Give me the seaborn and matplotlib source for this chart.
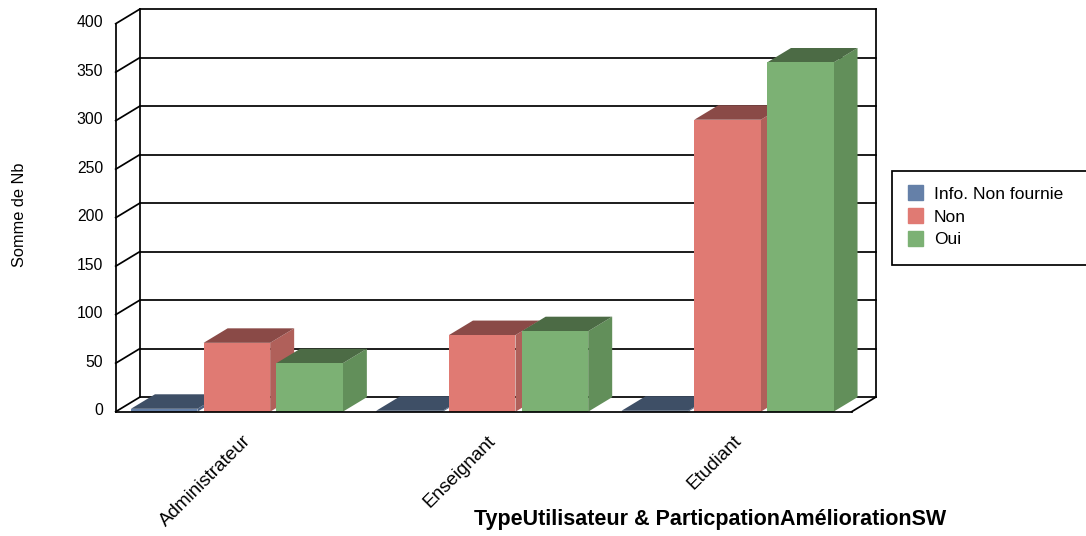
import matplotlib
matplotlib.use("Agg")
import matplotlib.pyplot as plt
import matplotlib.patches as mpatches
import matplotlib.transforms as mtrans
import pandas as pd
import seaborn as sns

categories = ["Administrateur", "Enseignant", "Etudiant"]
info_non_fournie = [3, 1, 1]
non = [71, 79, 301]
oui = [50, 83, 360]
hue_names = ["Info. Non fournie", "Non", "Oui"]
front_colors = ["#6580A8", "#E07A73", "#7CB174"]
side_colors = ["#4F6484", "#B0605A", "#628F5A"]
top_colors = ["#3E4F66", "#8A4A47", "#4C6B45"]
y_ticks = [0, 50, 100, 150, 200, 250, 300, 350, 400]

W, H = 1086, 536
sns.set_theme(style="white")
plt.rcParams["font.family"] = ["Liberation Sans", "DejaVu Sans"]

fig = plt.figure(figsize=(W / 100, H / 100), dpi=100, facecolor="white")
ax = fig.add_axes([115.7 / W, 1 - 411.7 / H, 736 / W, 388 / H])
ax.set_facecolor("none")

df = pd.DataFrame({
    "cat": categories * 3,
    "hue": [h for h in hue_names for _ in categories],
    "val": info_non_fournie + non + oui,
})
sns.barplot(data=df, x="cat", y="val", hue="hue", hue_order=hue_names,
            palette=front_colors, saturation=1, width=0.889, gap=0.085,
            legend=False, ax=ax)
xl, xr = -0.494, 2.506
ax.set_xlim(xl, xr)
ax.set_ylim(0, 400)

# depth of the pseudo-3D box, in data units
dx = 24 / (736 / 3)
dy = 14.5 / (388 / 400)

# extruded faces, one pair per seaborn bar
n_cat = len(categories)
for i, p in enumerate(ax.patches):
    h = i // n_cat
    x0, w, v = p.get_x(), p.get_width(), p.get_height()
    x1 = x0 + w
    z = 3 + h * 0.1
    p.set_zorder(z + 0.02)
    p.set_linewidth(0)
    ax.fill([x1, x1 + dx, x1 + dx, x1], [0, dy, v + dy, v],
            color=side_colors[h], lw=0, zorder=z, clip_on=False)
    ax.fill([x0, x0 + dx, x1 + dx, x1], [v, v + dy, v + dy, v],
            color=top_colors[h], lw=0, zorder=z + 0.01, clip_on=False)

# back wall: grid, diagonals, frame
lk = dict(color="black", lw=1.25, clip_on=False, solid_capstyle="projecting")
for t in y_ticks:
    ax.plot([xl + dx, xr + dx], [t + dy, t + dy], zorder=1, **lk)
    ax.plot([xl, xl + dx], [t, t + dy], zorder=1, **lk)
ax.plot([xl + dx, xl + dx], [dy, 400 + dy], zorder=1, **lk)
ax.plot([xr + dx, xr + dx], [dy, 400 + dy], zorder=1, **lk)
ax.plot([xr, xr + dx], [0, dy], zorder=1, **lk)

sns.despine(ax=ax, top=True, right=True)
for s in ("left", "bottom"):
    ax.spines[s].set_color("black")
    ax.spines[s].set_linewidth(1.25)
    ax.spines[s].set_zorder(5)

ax.set_xlabel("")
ax.set_ylabel("")
ax.set_yticks(y_ticks)
ax.tick_params(axis="y", length=0, pad=9, labelsize=11.3, labelcolor="black")
ax.tick_params(axis="x", length=0, pad=15, labelsize=13.6, labelcolor="black")
shift = mtrans.ScaledTranslation(0, 2.5 / 100, fig.dpi_scale_trans)
for lab in ax.get_yticklabels():
    lab.set_transform(lab.get_transform() + shift)
xshift = mtrans.ScaledTranslation(5 / 100, 0, fig.dpi_scale_trans)
for lab in ax.get_xticklabels():
    lab.set_rotation(45)
    lab.set_ha("right")
    lab.set_rotation_mode("anchor")
    lab.set_transform(lab.get_transform() + xshift)

fig.text(19.5 / W, 1 - 215 / H, "Somme de Nb", rotation=90, ha="center", va="center",
         fontsize=11.8, color="black")
fig.text(710 / W, 1 - 520 / H, "TypeUtilisateur & ParticpationAméliorationSW",
         ha="center", va="center", fontsize=15.5, fontweight="bold", color="black")

# legend
fig.add_artist(mpatches.Rectangle((891.7 / W, 1 - 264.5 / H), 300 / W, 93.5 / H,
                                  transform=fig.transFigure, fc="white", ec="black",
                                  lw=1.25, clip_on=True))
handles = [mpatches.Patch(color=c, label=n) for c, n in zip(front_colors, hue_names)]
leg = fig.legend(handles=handles, loc="upper left",
                 bbox_to_anchor=(907.5 / W, 1 - 185.5 / H), frameon=False,
                 fontsize=12.5, handlelength=0.9, handleheight=0.95,
                 handletextpad=0.62, labelspacing=0.36, borderaxespad=0, borderpad=0)
for t in leg.get_texts():
    t.set_color("black")

fig.savefig("out.png", dpi=100, facecolor="white")
